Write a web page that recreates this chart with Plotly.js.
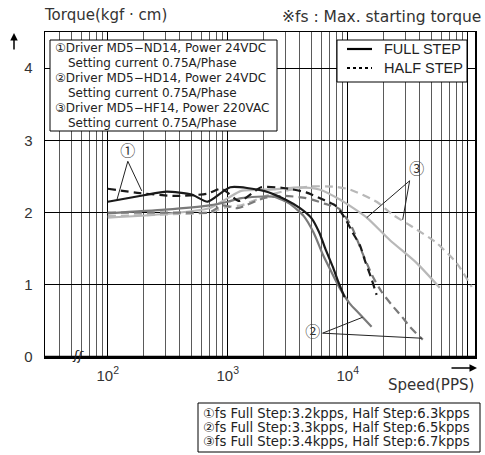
<!DOCTYPE html>
<html>
<head>
<meta charset="utf-8">
<script src="https://cdn.plot.ly/plotly-3.0.1.min.js"></script>
<style>html,body{margin:0;padding:0;background:#fff;}#chart{width:485px;height:455px;}</style>
</head>
<body>
<div id="chart"></div>
<script>
// ---- data (speed in PPS, torque in kgf·cm) ----
const speed1Full  = [100, 200, 310, 500, 680, 1050, 2000, 3100, 4000, 5000, 5800, 6500, 7500, 8300, 9400];
const torque1Full = [2.15, 2.24, 2.29, 2.25, 2.15, 2.35, 2.30, 2.17, 2.06, 1.92, 1.72, 1.50, 1.25, 1.05, 0.83];

const speed1Half  = [100, 185, 360, 670, 890, 1250, 1900, 2900, 4500, 6200, 8000, 9500, 11000, 12600, 14000, 15500, 17400];
const torque1Half = [2.33, 2.27, 2.23, 2.26, 2.33, 2.16, 2.35, 2.34, 2.28, 2.18, 2.09, 1.92, 1.72, 1.55, 1.32, 1.12, 0.86];

const speed2Full  = [100, 300, 700, 1000, 1300, 2400, 3300, 4300, 5200, 6200, 7300, 8600, 10400, 12500, 15800];
const torque2Full = [1.99, 2.04, 2.10, 2.15, 2.20, 2.22, 2.12, 1.95, 1.72, 1.42, 1.18, 0.95, 0.74, 0.60, 0.42];

const speed2Half  = [100, 500, 700, 900, 1200, 2000, 3000, 4500, 6500, 8500, 10800, 13100, 16200, 19200, 23300, 28200, 32900, 39800, 42200];
const torque2Half = [2.00, 2.00, 2.00, 2.10, 2.06, 2.20, 2.23, 2.20, 2.12, 2.05, 1.80, 1.46, 1.11, 0.90, 0.72, 0.56, 0.42, 0.28, 0.24];

const speed3Full  = [100, 300, 700, 1000, 1300, 2400, 4000, 5800, 8600, 14400, 22400, 37600, 58400];
const torque3Full = [1.93, 1.98, 2.06, 2.20, 2.30, 2.32, 2.35, 2.32, 2.18, 1.93, 1.62, 1.30, 0.96];

const speed3Half  = [100, 400, 700, 1000, 1300, 2000, 3000, 4800, 7500, 10400, 17400, 23700, 34800, 55000, 80900, 108000];
const torque3Half = [1.95, 1.98, 2.00, 2.08, 2.10, 2.22, 2.30, 2.36, 2.36, 2.32, 2.15, 1.97, 1.80, 1.58, 1.30, 0.97];

// pointer lines to curve labels
const ptr1X = [119, 147, 192];   const ptr1Y = [2.17, 2.71, 2.30];
const ptr2X = [13300, 6170, 41400]; const ptr2Y = [0.55, 0.33, 0.26];
const ptr3X = [14400, 32800, 28700]; const ptr3Y = [1.93, 2.44, 1.90];
const labelX = [147, 5110, 37600];
const labelY = [2.84, 0.33, 2.59];
const labelText = ['①', '②', '③'];

const yTicks = [0, 1, 2, 3, 4];
const xMajor = [100, 1000, 10000, 100000];
const xMajorText = ['10<sup>2</sup>', '10<sup>3</sup>', '10<sup>4</sup>', ''];
const xMinor = [40,50,60,70,80,90, 200,300,400,500,600,700,800,900,
                2000,3000,4000,5000,6000,7000,8000,9000,
                20000,30000,40000,50000,60000,70000,80000,90000];

const legendNames = ['FULL STEP', 'HALF STEP'];
const driverLines = ['①Driver MD5−ND14, Power 24VDC', 'Setting current 0.75A/Phase',
                     '②Driver MD5−HD14, Power 24VDC', 'Setting current 0.75A/Phase',
                     '③Driver MD5−HF14, Power 220VAC', 'Setting current 0.75A/Phase'];
const fsLines = ['①fs Full Step:3.2kpps, Half Step:6.3kpps',
                 '②fs Full Step:3.3kpps, Half Step:6.5kpps',
                 '③fs Full Step:3.4kpps, Half Step:6.7kpps'];

const C1 = '#1a1a1a', C2 = '#7a7a7a', C3 = '#b8b8b8';
const FONT = 'DejaVu Sans, Noto Sans CJK KR, sans-serif';
const FONT2 = 'Liberation Sans, Arial, Noto Sans CJK KR, sans-serif';

function curve(x, y, color, dash) {
  return {x: x, y: y, type: 'scatter', mode: 'lines', showlegend: false, hoverinfo: 'skip',
          line: {color: color, width: 2.2, dash: dash, shape: 'spline', smoothing: 0.6}};
}
function ptr(x, y) {
  return {x: x, y: y, type: 'scatter', mode: 'lines', showlegend: false, hoverinfo: 'skip',
          line: {color: '#222', width: 1}};
}

const traces = [
  curve(speed3Half, torque3Half, C3, '8px,5px'),
  curve(speed3Full, torque3Full, C3, 'solid'),
  curve(speed2Half, torque2Half, C2, '8px,5px'),
  curve(speed2Full, torque2Full, C2, 'solid'),
  curve(speed1Half, torque1Half, C1, '8px,5px'),
  curve(speed1Full, torque1Full, C1, 'solid'),
  ptr(ptr1X, ptr1Y), ptr(ptr2X, ptr2Y), ptr(ptr3X, ptr3Y),
  {x: labelX, y: labelY, text: labelText, type: 'scatter', mode: 'text', showlegend: false,
   hoverinfo: 'skip', textfont: {family: 'Noto Sans CJK KR, sans-serif', size: 15, color: '#333'}}
];

// pixel -> paper helpers
const px = v => (v - 45) / 430, py = v => (357 - v) / 325;

const annotations = [
  {xref: 'paper', yref: 'paper', x: px(382), y: py(49), xanchor: 'left', yanchor: 'middle',
   text: legendNames[0], showarrow: false, font: {family: FONT2, size: 14.5, color: '#222'}},
  {xref: 'paper', yref: 'paper', x: px(382), y: py(68), xanchor: 'left', yanchor: 'middle',
   text: legendNames[1], showarrow: false, font: {family: FONT2, size: 14.5, color: '#222'}},
  {xref: 'paper', yref: 'paper', x: px(42), y: py(15), xanchor: 'left', yanchor: 'middle',
   text: 'Torque(kgf · cm)', showarrow: false, font: {family: FONT, size: 15, color: '#333'}},
  {xref: 'paper', yref: 'paper', x: px(483), y: py(17), xanchor: 'right', yanchor: 'middle',
   text: '※fs : Max. starting torque', showarrow: false, font: {family: FONT, size: 15.5, color: '#333'}},
  {xref: 'paper', yref: 'paper', x: px(476), y: py(385), xanchor: 'right', yanchor: 'middle',
   text: 'Speed(PPS)', showarrow: false, font: {family: FONT, size: 15, color: '#333'}},
  {xref: 'paper', yref: 'paper', x: px(14), y: py(33), ax: 0, ay: 18, text: '',
   showarrow: true, arrowhead: 2, arrowsize: 1, arrowwidth: 1.5, arrowcolor: '#000'},
  {xref: 'paper', yref: 'paper', x: px(477), y: py(368), ax: -27, ay: 0, text: '',
   showarrow: true, arrowhead: 2, arrowsize: 1, arrowwidth: 1.5, arrowcolor: '#000'},
  {xref: 'paper', yref: 'paper', x: px(78), y: py(355), xanchor: 'center', yanchor: 'middle',
   text: 'ʃʃ', textangle: 10, showarrow: false, font: {family: FONT, size: 13, color: '#222'}}
];
const driverY = [48, 63, 78, 93, 108, 123];
driverLines.forEach((t, i) => annotations.push({
  xref: 'paper', yref: 'paper', x: px(i % 2 ? 66 : 53), y: py(driverY[i]), xanchor: 'left', yanchor: 'middle',
  text: t, showarrow: false, font: {family: FONT, size: 12, color: '#222'}}));
const fsY = [413, 427, 441];
fsLines.forEach((t, i) => annotations.push({
  xref: 'paper', yref: 'paper', x: px(201), y: py(fsY[i]), xanchor: 'left', yanchor: 'middle',
  text: t, showarrow: false, font: {family: FONT, size: 13.2, color: '#222'}}));

const layout = {
  width: 485, height: 455,
  margin: {l: 45, r: 10, t: 32, b: 98},
  paper_bgcolor: '#fff', plot_bgcolor: '#fff',
  font: {family: FONT2, color: '#333'},
  showlegend: false,
  xaxis: {
    type: 'log', range: [Math.log10(30), Math.log10(30) + 430/120],
    tickvals: xMajor, ticktext: xMajorText, ticks: '',
    tickfont: {size: 15, color: '#333'}, ticklabelstandoff: 4,
    showgrid: true, gridcolor: '#000', gridwidth: 1,
    minor: {tickvals: xMinor, showgrid: true, gridcolor: '#5a5a5a', gridwidth: 1, ticks: ''},
    showline: true, linecolor: '#000', linewidth: 1.5, mirror: true,
    zeroline: false, fixedrange: true
  },
  yaxis: {
    range: [0, 4.5], tickvals: yTicks, ticks: '',
    tickfont: {size: 15, color: '#333'}, ticklabelstandoff: 8,
    showgrid: true, gridcolor: '#000', gridwidth: 1,
    showline: true, linecolor: '#000', linewidth: 1.5, mirror: true,
    zeroline: false, fixedrange: true
  },
  shapes: [
    {type: 'line', xref: 'paper', yref: 'paper', x0: 0, x1: 1, y0: 0, y1: 0,
     line: {color: '#000', width: 2.5}},
    {type: 'rect', xref: 'paper', yref: 'paper', x0: px(337), x1: px(467), y0: py(82), y1: py(40),
     fillcolor: '#fff', line: {color: '#000', width: 1}, layer: 'above'},
    {type: 'line', xref: 'paper', yref: 'paper', x0: px(347), x1: px(372), y0: py(49), y1: py(49),
     line: {color: '#000', width: 2.2}, layer: 'above'},
    {type: 'line', xref: 'paper', yref: 'paper', x0: px(347), x1: px(372), y0: py(68), y1: py(68),
     line: {color: '#000', width: 2.2, dash: 'dot'}, layer: 'above'},
    {type: 'rect', xref: 'paper', yref: 'paper', x0: px(50), x1: px(277), y0: py(131), y1: py(40),
     fillcolor: '#fff', line: {color: '#000', width: 1}, layer: 'above'},
    {type: 'rect', xref: 'paper', yref: 'paper', x0: px(198), x1: px(480), y0: py(452), y1: py(403),
     fillcolor: '#fff', line: {color: '#000', width: 1}, layer: 'above'}
  ],
  annotations: annotations
};

Plotly.newPlot('chart', traces, layout, {staticPlot: true, displayModeBar: false});
</script>
</body>
</html>
